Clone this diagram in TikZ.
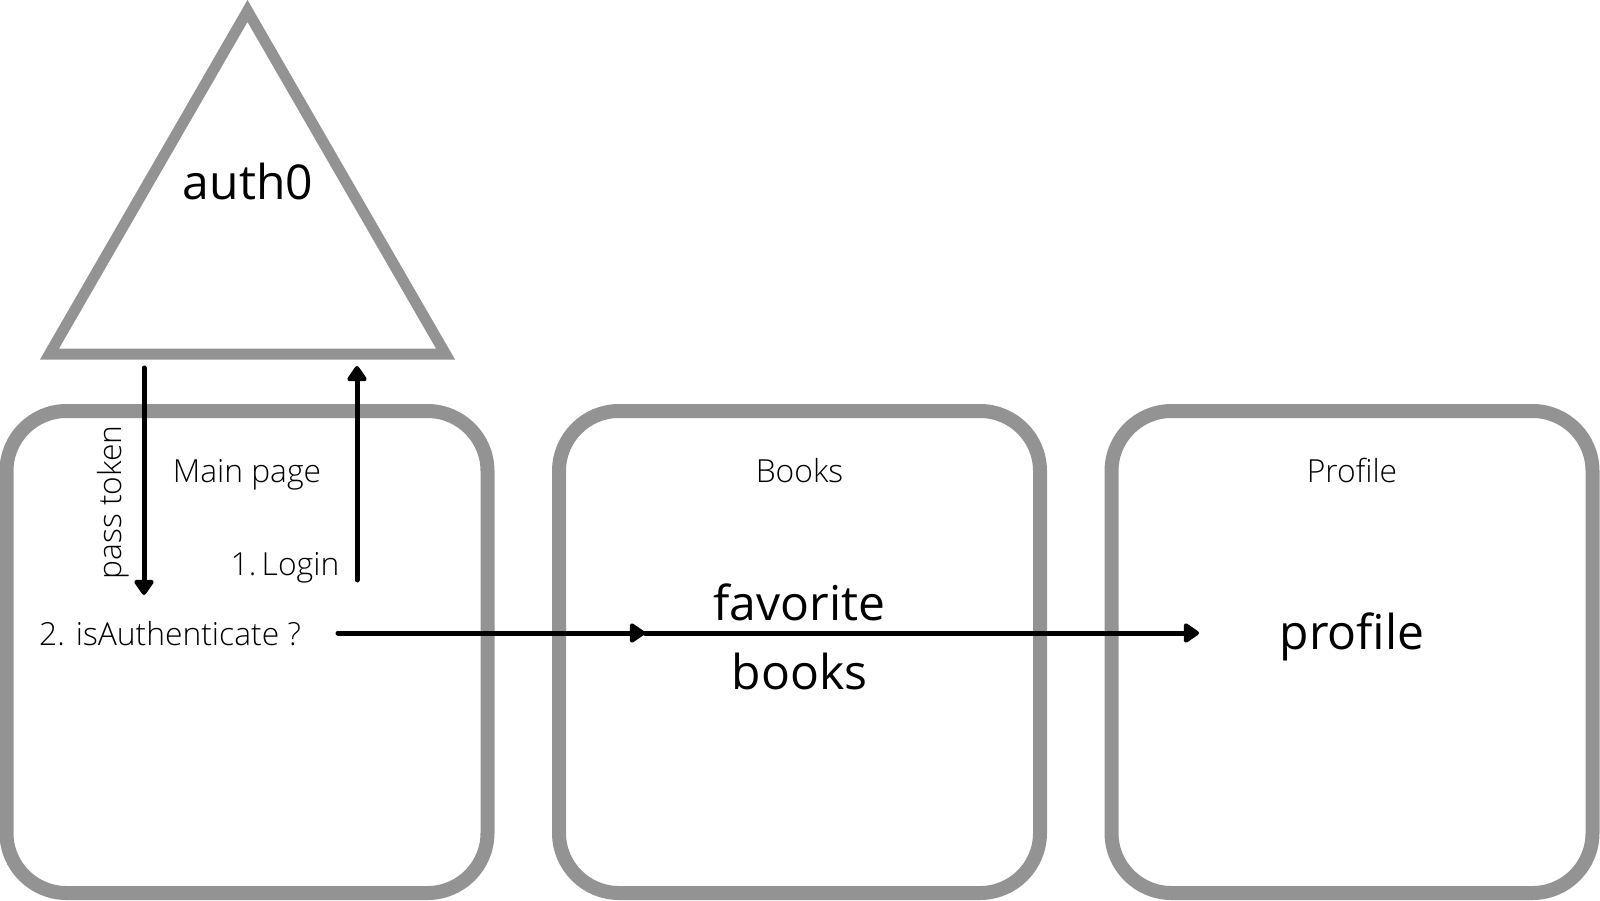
\documentclass[tikz,border=0pt]{standalone}
\usepackage{fontspec}
\setmainfont{Open Sans}
\newfontfamily\lightfont{Open Sans Light}
\usetikzlibrary{arrows.meta}
\definecolor{framegray}{RGB}{147,147,147}
\tikzset{
  pagebox/.style={draw=framegray,line width=14pt,rounded corners=60pt,minimum width=481pt,minimum height=482pt,inner sep=0pt},
  smalllabel/.style={font=\lightfont\fontsize{31.8}{37}\selectfont,inner sep=0pt,anchor=base},
  biglabel/.style={font=\fontsize{48}{69}\selectfont,inner sep=0pt,anchor=base,align=center},
  flow/.style={line width=5pt,line cap=round,-{Triangle[width=22pt,length=17pt,round]}}
}
\begin{document}
\begin{tikzpicture}[x=1pt,y=-1pt]
\useasboundingbox (0,0) rectangle (1600,900);
% auth0 triangle
\coordinate (ta) at (247.5,11);
\coordinate (tl) at (49.5,354);
\coordinate (tr) at (445.5,354);
\draw[draw=framegray,line width=11pt] (ta) -- (tl) -- (tr) -- cycle;
\node[biglabel] (auth) at (248,199) {auth0};
% page boxes
\node[pagebox] (main) at (247,652) {};
\node[pagebox] (books) at (799.5,652) {};
\node[pagebox] (profbox) at (1352,652) {};
% labels
\node[smalllabel] (mainlbl) at (247,482) {Main page};
\node[smalllabel] (bookslbl) at (799.5,482) {Books};
\node[smalllabel] (proflbl) at (1352,482) {Profile};
\node[smalllabel] (login) at (285,575) {1.\,Login};
\node[smalllabel,rotate=90] (token) at (121.5,502.5) {pass token};
\node[smalllabel] (isauth) at (170,645) {2. isAuthenticate ?};
\node[font=\fontsize{48}{69}\selectfont,inner sep=0pt,anchor=base] (fav) at (799.5,620) {favorite};
\node[font=\fontsize{48}{69}\selectfont,inner sep=0pt,anchor=base] (favb) at (799.5,689) {books};
\node[biglabel] (prof) at (1352,649) {profile};
% connectors
\coordinate (tokA) at (144,368);
\coordinate (tokB) at (144,595);
\coordinate (logA) at (357,580);
\coordinate (logB) at (357,366);
\coordinate (hA) at (338,633);
\coordinate (hB) at (645,633);
\coordinate (hC) at (1199,633);
\draw[flow] (tokA) -- (tokB);
\draw[flow] (logA) -- (logB);
\draw[flow] (hA) -- (hB);
\draw[flow] (hB) -- (hC);
\end{tikzpicture}
\end{document}
